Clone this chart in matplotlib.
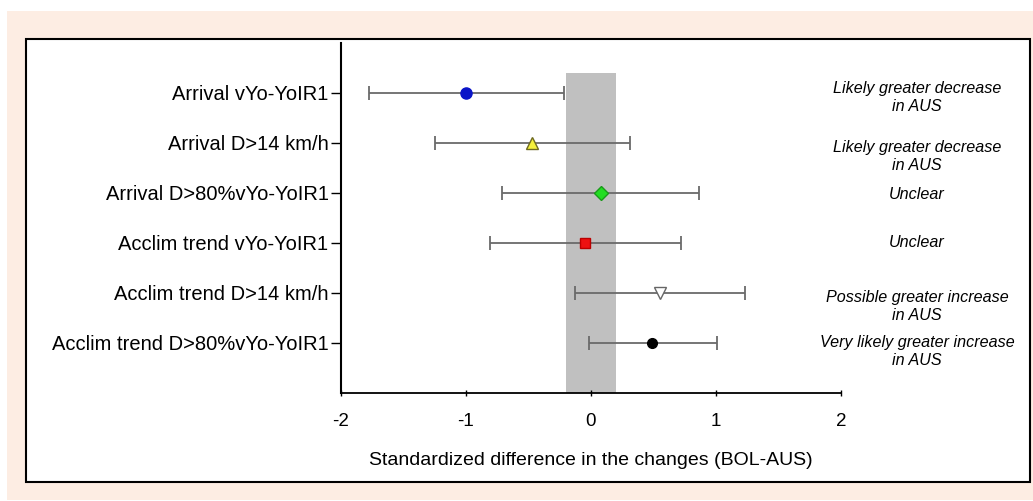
import matplotlib
matplotlib.use("Agg")
import matplotlib.pyplot as plt
from matplotlib.patches import Rectangle
import numpy as np

plt.rcParams['font.family'] = ['Liberation Sans', 'DejaVu Sans']

categories = ["Arrival vYo-YoIR1", "Arrival D>14 km/h", "Arrival D>80%vYo-YoIR1",
              "Acclim trend vYo-YoIR1", "Acclim trend D>14 km/h", "Acclim trend D>80%vYo-YoIR1"]
estimates = [-1.00, -0.47, 0.08, -0.05, 0.55, 0.49]
lower = [-1.78, -1.25, -0.71, -0.81, -0.13, -0.02]
upper = [-0.22, 0.31, 0.86, 0.72, 1.23, 1.01]
outcomes = ["Likely greater decrease\nin AUS", "Likely greater decrease\nin AUS", "Unclear",
            "Unclear", "Possible greater increase\nin AUS", "Very likely greater increase\nin AUS"]
trivial_band = (-0.2, 0.2)
xticks = [-2, -1, 0, 1, 2]
xlabel = "Standardized difference in the changes (BOL-AUS)"

markers = ['o', '^', 'D', 's', 'v', 'o']
facecolors = ['#0A14C8', '#F4F03C', '#22DD22', '#EE1111', '#FFFFFF', '#000000']
edgecolors = ['#0A14C8', '#6E6A20', '#1A9A1A', '#BB0000', '#666666', '#000000']
sizes = [8, 8, 7, 7, 9, 7]
text_offsets = [-0.09, -0.27, -0.04, 0.0, -0.27, -0.17]

fig = plt.figure(figsize=(10.33, 5.01), dpi=100)
fig.patch.set_facecolor('white')
W, H = 1033, 501
fig.patches.append(Rectangle((7 / W, 1 - 500 / H), 1 - 7 / W, (500 - 11) / H,
                             transform=fig.transFigure, facecolor='#FDEDE3', edgecolor='none', zorder=-2))
fig.patches.append(Rectangle((26 / W, 1 - 482 / H), (1030 - 26) / W, (482 - 39) / H,
                             transform=fig.transFigure, facecolor='white', edgecolor='black',
                             linewidth=1.5, zorder=-1))

ax = fig.add_axes([341 / W, 1 - 393 / H, 500 / W, 350 / H])
ax.set_zorder(2)
ax.patch.set_alpha(0)
n = len(categories)
ypos = np.arange(n, 0, -1)

ax.fill_between(trivial_band, [0, 0], [6.4, 6.4], color='#C0C0C0', linewidth=0, zorder=1)

for i in range(n):
    ax.errorbar(estimates[i], ypos[i],
                xerr=[[estimates[i] - lower[i]], [upper[i] - estimates[i]]],
                fmt='none', ecolor='#6A6A6A', elinewidth=1.3, capsize=5, capthick=1.3, zorder=2)
    ax.plot(estimates[i], ypos[i], marker=markers[i], markersize=sizes[i],
            markerfacecolor=facecolors[i], markeredgecolor=edgecolors[i],
            markeredgewidth=1.0, linestyle='none', zorder=3)
    ax.text(2.0 + 76 / 125, ypos[i] + text_offsets[i], outcomes[i], ha='center', va='center',
            fontsize=11.6, style='italic', linespacing=1.2, clip_on=False)

ax.set_xlim(-2, 2)
ax.set_ylim(0, 7)
ax.set_xticks(xticks)
ax.set_xticklabels([str(t) for t in xticks], fontsize=13.5)
ax.set_yticks(ypos)
ax.set_yticklabels(categories, fontsize=14.5)
ax.set_xlabel(xlabel, fontsize=14, labelpad=16)
for s in ['top', 'right']:
    ax.spines[s].set_visible(False)
ax.spines['left'].set_linewidth(1.5)
ax.spines['bottom'].set_linewidth(1.3)
ax.tick_params(axis='x', direction='inout', length=5, width=1.0, pad=12)
ax.tick_params(axis='y', direction='out', length=7, width=1.0, pad=2)

fig.savefig('out.png', dpi=100)
